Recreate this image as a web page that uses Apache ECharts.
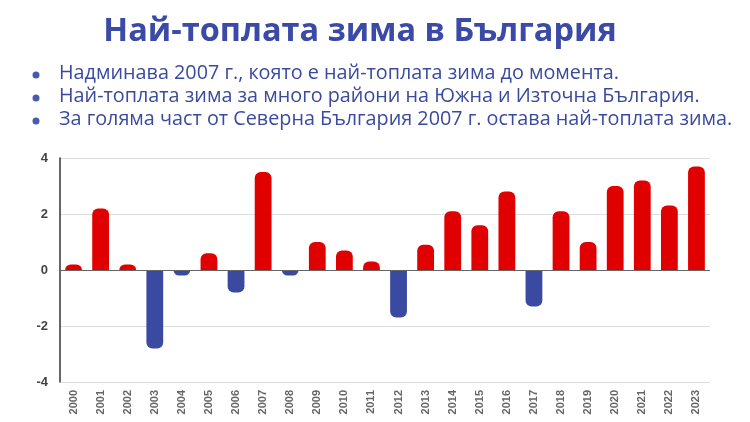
<!DOCTYPE html>
<html><head><meta charset="utf-8">
<script src="https://cdn.jsdelivr.net/npm/echarts@6/dist/echarts.min.js"></script>
<style>html,body{margin:0;padding:0;background:#fff}#c{width:750px;height:422px}</style>
</head><body><div id="c"></div>
<script>
const years = ['2000','2001','2002','2003','2004','2005','2006','2007','2008','2009','2010','2011','2012','2013','2014','2015','2016','2017','2018','2019','2020','2021','2022','2023'];
const anomalies = [0.2,2.2,0.2,-2.8,-0.2,0.6,-0.8,3.5,-0.2,1.0,0.7,0.3,-1.7,0.9,2.1,1.6,2.8,-1.3,2.1,1.0,3.0,3.2,2.3,3.7];
const titleText = 'Най-топлата зима в България';
const bullets = [
  'Надминава 2007 г., която е най-топлата зима до момента.',
  'Най-топлата зима за много райони на Южна и Източна България.',
  'За голяма част от Северна България 2007 г. остава най-топлата зима.'
];
const chart = echarts.init(document.getElementById('c'));
const blue = '#3a4a9f';
const graphics = [];
bullets.forEach((b,i)=>{
  graphics.push({type:'circle',shape:{cx:36,cy:75+i*23,r:3.5},style:{fill:'#4a5ab0'}});
  graphics.push({type:'text',left:59,top:63+i*23,style:{text:b,font:'19.8px "Open Sans", sans-serif',fill:blue}});
});
chart.setOption({
  animation:false,
  title:{text:titleText,left:355,textAlign:'center',top:10,textStyle:{fontFamily:'"Open Sans", sans-serif',fontSize:32.5,fontWeight:'bold',color:'#3a4aa6'}},
  graphic:graphics,
  grid:{left:60,right:40,top:158,bottom:40,containLabel:false},
  xAxis:{type:'category',data:years,
    axisLine:{show:false},axisTick:{show:false},
    axisLabel:{rotate:90,fontSize:11,fontWeight:'bold',color:'#666',margin:8,fontFamily:'Arial'}},
  yAxis:{type:'value',min:-4,max:4,interval:2,
    axisLine:{show:true,lineStyle:{color:'#333',width:1.5}},axisTick:{show:false},
    splitLine:{lineStyle:{color:'#ddd'}},
    axisLabel:{fontSize:13,fontWeight:'bold',color:'#444',margin:12,fontFamily:'Arial'}},
  series:[{type:'bar',data:anomalies.map(v=>({value:v,
      itemStyle:{color:v>=0?'#e00000':'#3a4aa0',borderRadius:v>=0?[6,6,0,0]:[0,0,6,6]}})),
    barWidth:'62%',
    markLine:{silent:true,symbol:'none',label:{show:false},lineStyle:{color:'#666',type:'solid',width:1.2},data:[{yAxis:0}]}
  }]
});
</script></body></html>
